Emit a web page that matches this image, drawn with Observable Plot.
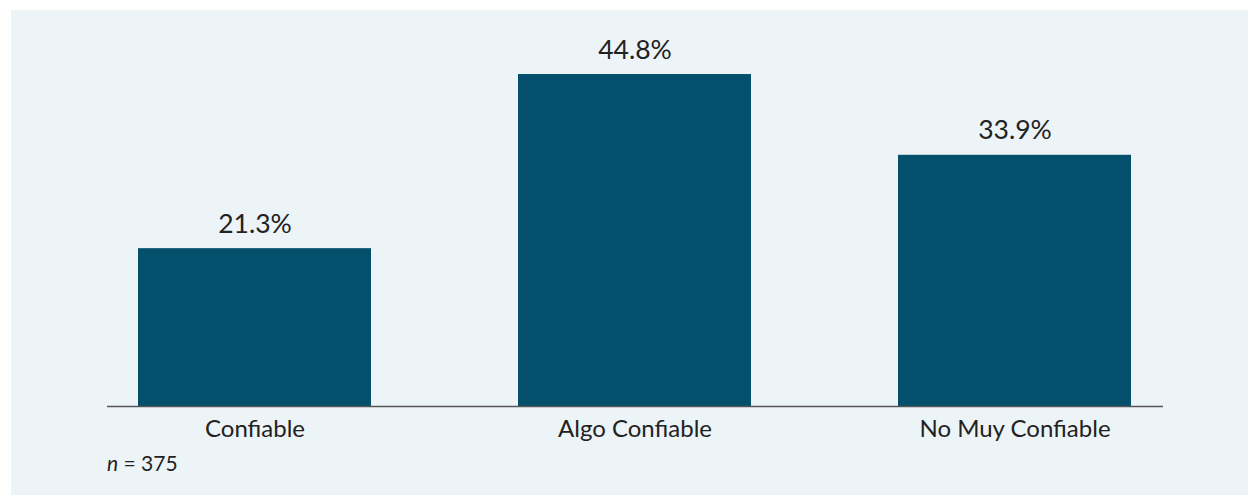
<!DOCTYPE html>
<html>
<head>
<meta charset="utf-8">
<script src="https://cdn.jsdelivr.net/npm/d3@7"></script>
<script src="https://cdn.jsdelivr.net/npm/@observablehq/plot@0.6"></script>
<style>
  html, body { margin: 0; padding: 0; background: #ffffff; }
  #wrap {
    position: absolute; left: 11px; top: 10px; width: 1237px; height: 485px;
    background: #edf4f8; font-family: Lato, sans-serif; color: #222;
  }
  #caption { font-size: 21px; line-height: 21px; margin-top: 2px; padding-left: 96px; color: #222; }
  svg { display: block; }
</style>
</head>
<body>
<div id="wrap"><div id="chart"></div><div id="caption"><i>n</i> = 375</div></div>
<script>
const categories = ["Confiable", "Algo Confiable", "No Muy Confiable"];
const values = [21.3, 44.8, 33.9];
const valueLabels = ["21.3%", "44.8%", "33.9%"];

const data = categories.map((c, i) => ({category: c, value: values[i], label: valueLabels[i]}));

const chart = Plot.plot({
  width: 1237,
  height: 440,
  marginLeft: 96,
  marginRight: 85,
  marginTop: 25.5,
  marginBottom: 44,
  style: {background: "transparent", fontFamily: "Lato, sans-serif", color: "#222"},
  x: {domain: categories, paddingInner: 0.386, paddingOuter: 0.082, label: null},
  y: {domain: [0, 50], axis: null},
  marks: [
    Plot.barY(data, {x: "category", y: "value", fill: "#034f6c"}),
    Plot.text(data, {x: "category", y: "value", text: "label", dy: -16, lineAnchor: "bottom", fontSize: 26.5, fill: "#222"}),
    Plot.ruleY([0], {stroke: "#555", strokeWidth: 1.5}),
    Plot.axisX({tickSize: 0, tickPadding: 13, fontSize: 24, label: null, fill: "#222"})
  ]
});
document.getElementById("chart").appendChild(chart);
</script>
</body>
</html>
